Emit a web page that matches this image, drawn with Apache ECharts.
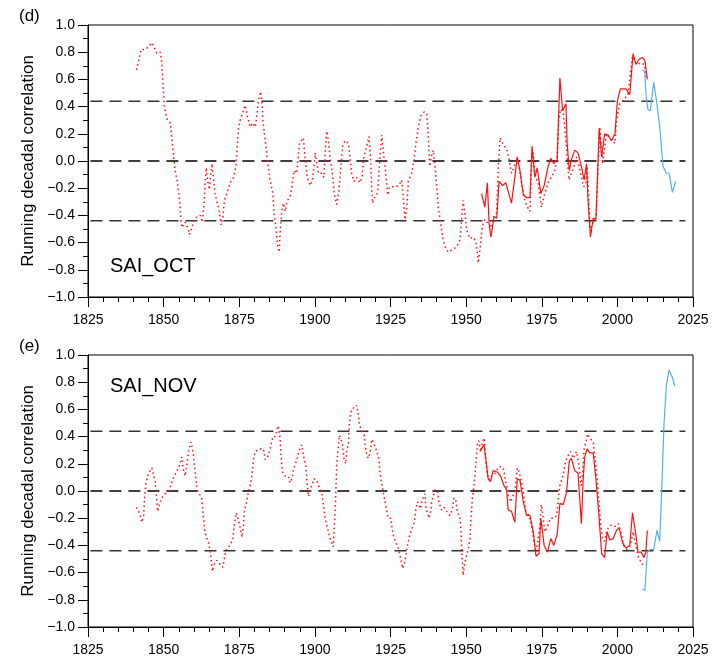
<!DOCTYPE html>
<html>
<head>
<meta charset="utf-8">
<title>SAI running decadal correlation</title>
<script src="https://cdn.jsdelivr.net/npm/echarts@6/dist/echarts.min.js"></script>
<style>
  body { margin: 0; background: #fff; }
  #main { width: 712px; height: 661px; }
</style>
</head>
<body>
<div id="main"></div>
<script>
// x ticks every 25 years, y ticks every 0.2
const xTicks = [1825, 1850, 1875, 1900, 1925, 1950, 1975, 2000, 2025];
const yTicks = [-1.0, -0.8, -0.6, -0.4, -0.2, 0.0, 0.2, 0.4, 0.6, 0.8, 1.0];
const thresholds = [0.44, 0, -0.44];
const dashSpan = [1825.8, 2022.5];

// panel (d) SAI_OCT - dotted red
const octDotYears = [1841.0, 1841.7, 1842.5, 1843.9, 1845.0, 1846.1, 1847.8, 1848.9, 1849.4, 1849.8,
  1850.2, 1851.1, 1852.2, 1853.1, 1853.8, 1854.6, 1855.3, 1855.7, 1856.1, 1857.1,
  1858.0, 1858.5, 1859.3, 1860.1, 1861.0, 1862.1, 1862.8, 1863.4, 1863.7, 1864.1,
  1864.5, 1865.1, 1865.6, 1866.0, 1866.5, 1867.0, 1867.6, 1868.5, 1869.0, 1869.6,
  1870.1, 1870.9, 1872.0, 1873.1, 1873.9, 1874.2, 1874.7, 1875.3, 1876.2, 1876.9,
  1877.7, 1878.6, 1879.5, 1880.3, 1880.8, 1881.3, 1882.1, 1882.6, 1882.8, 1883.6,
  1884.3, 1885.2, 1886.1, 1886.5, 1887.1, 1887.6, 1888.2, 1888.5, 1889.1, 1889.6,
  1890.2, 1890.7, 1891.8, 1892.4, 1893.1, 1894.0, 1894.9, 1896.2, 1896.8, 1897.5,
  1898.4, 1899.2, 1899.7, 1900.1, 1900.6, 1901.2, 1902.3, 1903.0, 1903.4, 1903.9,
  1904.5, 1905.0, 1905.8, 1906.4, 1907.2, 1908.0, 1908.6, 1909.2, 1910.0, 1911.1,
  1911.6, 1912.2, 1913.0, 1913.8, 1914.9, 1915.6, 1916.2, 1916.9, 1917.9, 1918.5,
  1918.8, 1919.1, 1919.9, 1920.8, 1921.3, 1922.1, 1922.6, 1923.4, 1924.1, 1924.8,
  1926.3, 1927.8, 1928.7, 1929.2, 1929.8, 1930.4, 1930.9, 1932.0, 1932.8, 1933.4,
  1934.2, 1935.0, 1936.1, 1937.0, 1937.5, 1938.0, 1938.6, 1939.1, 1939.7, 1940.3,
  1940.8, 1941.6, 1942.4, 1943.2, 1944.1, 1945.7, 1946.9, 1948.0, 1948.5, 1949.0,
  1949.6, 1950.2, 1951.3, 1952.3, 1953.2, 1953.8, 1954.0, 1954.6, 1955.1, 1955.6,
  1956.2, 1957.3, 1958.4, 1959.2, 1960.1, 1960.7, 1961.2, 1962.3, 1963.4, 1964.2,
  1965.0, 1965.9, 1966.7, 1967.5, 1968.3, 1969.4, 1970.3, 1971.1, 1971.6, 1972.2,
  1972.7, 1973.8, 1974.9, 1976.0, 1977.1, 1978.2, 1979.3, 1980.1, 1980.6, 1981.2,
  1982.1, 1983.0, 1983.5, 1984.0, 1984.8, 1985.7, 1986.5, 1987.4, 1988.1, 1988.9,
  1989.6, 1990.0, 1991.0, 1992.0, 1993.0, 1994.2, 1995.1, 1996.4, 1998.1, 1999.2,
  1999.7, 2000.8, 2002.1, 2003.5, 2005.0, 2006.3, 2007.6, 2009.0, 2009.6, 2010.1];
const octDotVals = [0.67, 0.73, 0.82, 0.82, 0.84, 0.87, 0.79, 0.80, 0.72, 0.57,
  0.40, 0.31, 0.28, 0.08, -0.07, -0.16, -0.29, -0.43, -0.49, -0.45,
  -0.49, -0.54, -0.49, -0.43, -0.41, -0.40, -0.45, -0.31, -0.16, -0.05,
  -0.14, -0.21, -0.09, -0.02, -0.13, -0.24, -0.30, -0.38, -0.47, -0.41,
  -0.29, -0.24, -0.16, -0.12, -0.04, 0.06, 0.23, 0.30, 0.36, 0.41,
  0.33, 0.25, 0.28, 0.25, 0.33, 0.44, 0.51, 0.41, 0.30, 0.15,
  0.01, -0.14, -0.24, -0.38, -0.48, -0.61, -0.67, -0.53, -0.36, -0.31,
  -0.37, -0.30, -0.26, -0.19, -0.07, -0.09, 0.13, 0.17, 0.01, -0.12,
  -0.18, -0.14, -0.04, 0.06, -0.01, -0.09, -0.09, -0.12, 0.06, 0.22,
  0.15, 0.03, -0.09, -0.24, -0.32, -0.21, -0.04, 0.11, 0.15, 0.13,
  0.03, -0.10, -0.15, -0.12, -0.16, -0.12, 0.03, 0.09, 0.18, -0.02,
  -0.21, -0.31, -0.26, -0.23, -0.04, 0.19, 0.08, -0.09, -0.25, -0.19,
  -0.19, -0.18, -0.14, -0.26, -0.43, -0.34, -0.15, -0.09, 0.01, 0.13,
  0.25, 0.33, 0.36, 0.35, 0.18, -0.04, 0.04, 0.08, -0.04, -0.19,
  -0.34, -0.46, -0.58, -0.64, -0.67, -0.65, -0.63, -0.58, -0.43, -0.29,
  -0.38, -0.51, -0.57, -0.56, -0.59, -0.70, -0.75, -0.65, -0.53, -0.46,
  -0.43, -0.46, -0.49, -0.41, -0.38, -0.02, 0.17, 0.12, 0.09, 0.01,
  -0.09, -0.04, 0.02, -0.04, -0.16, -0.29, -0.34, -0.37, -0.04, 0.06,
  -0.10, -0.16, -0.34, -0.24, -0.16, -0.12, -0.07, 0.03, 0.30, 0.38,
  0.36, 0.15, 0.01, -0.14, -0.09, -0.04, 0.03, -0.04, -0.12, -0.19,
  -0.16, -0.04, -0.50, -0.45, -0.40, 0.25, -0.02, 0.20, 0.15, 0.13,
  0.30, 0.42, 0.45, 0.49, 0.77, 0.71, 0.72, 0.71, 0.62, 0.60];

// panel (d) SAI_OCT - solid red
const octLineYears = [1955.1, 1956.2, 1957.0, 1957.6, 1958.2, 1959.2, 1960.1, 1960.9, 1962.1, 1963.1,
  1965.0, 1966.1, 1966.9, 1967.8, 1968.9, 1970.0, 1971.1, 1971.8, 1972.7, 1973.5,
  1974.0, 1974.7, 1975.8, 1977.1, 1978.0, 1979.0, 1980.1, 1981.0, 1981.9, 1983.0,
  1983.4, 1984.1, 1984.8, 1985.9, 1987.0, 1988.1, 1989.0, 1989.8, 1990.3, 1991.1,
  1992.0, 1992.9, 1994.0, 1994.8, 1995.8, 1996.9, 1998.1, 1999.2, 2000.0, 2001.0,
  2002.8, 2004.1, 2005.2, 2006.1, 2007.2, 2008.3, 2009.1, 2009.9];
const octLineVals = [-0.24, -0.34, -0.16, -0.46, -0.56, -0.41, -0.42, -0.15, -0.18, -0.16,
  -0.31, -0.12, 0.03, -0.07, -0.25, -0.27, -0.27, 0.11, -0.12, -0.05,
  -0.04, -0.24, -0.18, -0.04, 0.02, -0.02, 0.01, 0.61, 0.37, 0.42,
  0.13, -0.07, 0.01, 0.08, 0.06, -0.04, -0.14, -0.02, -0.29, -0.56,
  -0.42, -0.43, 0.24, 0.03, 0.20, 0.19, 0.15, 0.20, 0.44, 0.53,
  0.53, 0.49, 0.79, 0.71, 0.75, 0.76, 0.74, 0.60];

// panel (d) SAI_OCT - blue
const octBlueYears = [2008.3, 2009.0, 2009.6, 2010.1, 2010.9, 2012.0, 2012.9, 2014.0, 2015.1, 2016.2, 2017.1, 2018.2, 2019.3];
const octBlueVals = [0.67, 0.66, 0.45, 0.38, 0.37, 0.58, 0.45, 0.25, -0.04, -0.09, -0.09, -0.23, -0.15];

// panel (e) SAI_NOV - dotted red
const novDotYears = [1841.0, 1842.0, 1842.8, 1843.4, 1843.7, 1844.2, 1845.0, 1846.1, 1846.7, 1847.2,
  1847.6, 1848.0, 1848.6, 1849.4, 1850.5, 1851.9, 1853.1, 1854.2, 1855.3, 1856.0,
  1856.6, 1857.1, 1857.7, 1858.2, 1859.1, 1859.9, 1860.4, 1861.0, 1861.5, 1862.6,
  1863.2, 1863.7, 1864.3, 1864.8, 1865.4, 1865.9, 1866.1, 1866.7, 1867.6, 1868.7,
  1869.6, 1870.3, 1870.9, 1872.0, 1872.9, 1873.3, 1874.0, 1874.7, 1875.3, 1875.9,
  1876.4, 1876.7, 1877.3, 1878.0, 1878.6, 1879.2, 1879.7, 1880.3, 1881.7, 1883.0,
  1883.6, 1884.1, 1884.6, 1885.2, 1886.1, 1886.9, 1887.4, 1887.9, 1888.5, 1888.8,
  1889.3, 1890.2, 1891.2, 1891.8, 1892.4, 1893.1, 1894.0, 1894.9, 1895.7, 1896.4,
  1897.0, 1897.3, 1897.9, 1898.4, 1899.0, 1899.7, 1900.6, 1901.4, 1902.3, 1902.8,
  1903.4, 1903.9, 1904.5, 1905.0, 1905.6, 1906.1, 1906.4, 1906.8, 1907.0, 1907.2,
  1907.6, 1908.1, 1908.6, 1909.1, 1909.6, 1910.2, 1910.5, 1911.1, 1911.4, 1911.9,
  1912.5, 1913.3, 1913.8, 1914.4, 1914.7, 1915.5, 1916.3, 1916.6, 1917.2, 1917.7,
  1918.3, 1918.8, 1919.3, 1919.9, 1920.6, 1921.2, 1921.5, 1921.9, 1922.6, 1923.2,
  1923.7, 1924.3, 1925.1, 1925.4, 1925.7, 1926.2, 1926.8, 1927.6, 1928.1, 1928.7,
  1929.0, 1929.5, 1930.0, 1930.5, 1931.4, 1932.2, 1932.9, 1933.4, 1933.9, 1934.5,
  1935.0, 1935.3, 1935.8, 1936.4, 1936.7, 1937.2, 1937.8, 1938.3, 1938.6, 1939.1,
  1939.7, 1940.5, 1941.1, 1941.9, 1942.7, 1943.6, 1944.6, 1945.4, 1946.0, 1946.6,
  1947.1, 1948.0, 1948.3, 1948.5, 1948.7, 1949.0, 1949.6, 1950.2, 1950.7, 1951.3,
  1951.6, 1952.1, 1952.6, 1953.2, 1953.7, 1954.2, 1954.8, 1955.4, 1956.0, 1956.4,
  1957.0, 1957.6, 1958.4, 1959.5, 1960.9, 1962.3, 1963.1, 1963.9, 1964.7, 1965.4,
  1966.1, 1966.9, 1967.5, 1968.3, 1968.9, 1969.7, 1970.8, 1971.6, 1972.4, 1973.1,
  1973.8, 1974.4, 1974.9, 1975.5, 1976.0, 1976.9, 1977.9, 1979.0, 1979.9, 1980.4,
  1981.0, 1982.1, 1982.9, 1983.7, 1984.5, 1985.4, 1986.5, 1987.3, 1988.0, 1988.5,
  1989.0, 1989.6, 1990.1, 1990.9, 1992.0, 1992.5, 1993.3, 1993.9, 1994.4, 1995.1,
  1995.8, 1996.4, 1997.2, 1998.1, 1999.2, 2000.3, 2001.4, 2002.1, 2003.2, 2004.3,
  2005.2, 2006.1, 2007.0, 2008.2, 2009.1];
const novDotVals = [-0.12, -0.16, -0.23, -0.18, -0.05, 0.06, 0.13, 0.17, 0.17, 0.07,
  -0.03, -0.15, -0.10, -0.05, -0.02, 0.01, 0.09, 0.14, 0.19, 0.25,
  0.15, 0.11, 0.19, 0.29, 0.36, 0.26, 0.14, 0.02, -0.01, -0.05,
  -0.20, -0.30, -0.35, -0.37, -0.45, -0.54, -0.59, -0.54, -0.51, -0.54,
  -0.56, -0.47, -0.42, -0.40, -0.35, -0.26, -0.16, -0.21, -0.27, -0.34,
  -0.25, -0.15, -0.09, -0.01, 0.04, 0.12, 0.23, 0.29, 0.31, 0.31,
  0.23, 0.22, 0.26, 0.31, 0.40, 0.40, 0.44, 0.48, 0.39, 0.26,
  0.14, 0.11, 0.11, 0.06, 0.09, 0.17, 0.23, 0.30, 0.34, 0.24,
  0.19, 0.09, -0.04, 0.01, 0.04, 0.09, 0.08, 0.03, -0.01, -0.10,
  -0.20, -0.25, -0.30, -0.35, -0.38, -0.41, -0.27, -0.10, 0.04, 0.19,
  0.29, 0.41, 0.38, 0.34, 0.24, 0.20, 0.29, 0.35, 0.49, 0.58,
  0.61, 0.61, 0.63, 0.56, 0.49, 0.44, 0.41, 0.34, 0.26, 0.24,
  0.29, 0.38, 0.38, 0.33, 0.28, 0.23, 0.14, 0.08, -0.01, -0.08,
  -0.14, -0.20, -0.20, -0.25, -0.30, -0.35, -0.38, -0.42, -0.47, -0.53,
  -0.57, -0.54, -0.49, -0.41, -0.32, -0.27, -0.23, -0.13, -0.08, -0.07,
  -0.13, -0.08, -0.05, -0.02, -0.13, -0.16, -0.20, -0.15, -0.08, -0.04,
  0.01, 0.00, -0.09, -0.14, -0.12, -0.15, -0.18, -0.14, -0.05, -0.07,
  -0.15, -0.20, -0.30, -0.40, -0.49, -0.62, -0.52, -0.47, -0.43, -0.35,
  -0.20, -0.05, 0.04, 0.19, 0.34, 0.37, 0.29, 0.36, 0.39, 0.24,
  0.12, 0.08, 0.11, 0.13, 0.18, 0.17, 0.07, -0.03, -0.08, -0.04,
  -0.01, 0.17, 0.14, 0.07, -0.01, -0.15, -0.18, -0.25, -0.37, -0.45,
  -0.35, -0.25, -0.10, -0.20, -0.30, -0.26, -0.20, -0.20, -0.18, -0.08,
  0.04, 0.12, 0.22, 0.26, 0.29, 0.24, 0.29, 0.19, 0.04, 0.14,
  0.31, 0.36, 0.42, 0.39, 0.36, 0.26, 0.09, -0.08, -0.23, -0.35,
  -0.37, -0.30, -0.26, -0.25, -0.26, -0.24, -0.32, -0.40, -0.43, -0.40,
  -0.30, -0.40, -0.49, -0.54, -0.53];

// panel (e) SAI_NOV - solid red
const novLineYears = [1954.6, 1955.1, 1955.9, 1956.5, 1957.3, 1958.1, 1958.9, 1960.3, 1961.4, 1962.5,
  1963.4, 1963.9, 1965.0, 1966.1, 1966.9, 1967.8, 1968.9, 1970.0, 1971.1, 1972.2,
  1973.1, 1974.1, 1974.7, 1975.3, 1975.8, 1976.9, 1978.0, 1979.0, 1980.1, 1981.0,
  1982.1, 1983.2, 1984.1, 1984.8, 1985.9, 1987.0, 1988.1, 1988.7, 1989.2, 1990.0,
  1990.9, 1992.0, 1992.9, 1993.8, 1994.8, 1995.8, 1996.6, 1997.5, 1998.6, 1999.7,
  2000.6, 2001.7, 2002.8, 2004.1, 2005.0, 2006.1, 2006.8, 2007.9, 2008.8, 2009.4, 2009.9];
const novLineVals = [0.29, 0.31, 0.34, 0.24, 0.09, 0.07, 0.15, 0.14, 0.11, 0.04,
  0.01, -0.14, -0.15, -0.23, 0.09, 0.08, -0.08, -0.18, -0.18, -0.30,
  -0.48, -0.46, -0.20, -0.20, -0.40, -0.45, -0.35, -0.40, -0.32, -0.09,
  -0.10, -0.01, 0.22, 0.24, 0.15, 0.13, -0.24, 0.09, 0.25, 0.31,
  0.28, 0.28, 0.09, -0.15, -0.46, -0.49, -0.30, -0.36, -0.35, -0.29,
  -0.27, -0.38, -0.42, -0.40, -0.16, -0.32, -0.45, -0.45, -0.49, -0.45, -0.29];

// panel (e) SAI_NOV - blue
const novBlueYears = [2008.2, 2009.1, 2009.9, 2010.9, 2012.0, 2013.1, 2014.0, 2014.8, 2015.4, 2016.2, 2017.1, 2018.1, 2019.0];
const novBlueVals = [-0.72, -0.73, -0.45, -0.43, -0.43, -0.29, -0.37, 0.09, 0.49, 0.78, 0.89, 0.84, 0.77];

const FONT = "'Liberation Sans', Arial, Helvetica, sans-serif";
const RED = "#ff1010";
const BLUE = "#55b0e6";

function pairs(xs, ys) {
  return xs.map((x, i) => [x, ys[i]]);
}

function fmtY(v) {
  if (Math.abs(v) < 1e-9) return "0.0";
  return v.toFixed(1).replace("-", "\u2212");
}

const grids = [
  { left: 88, top: 25, width: 605, height: 272 },
  { left: 88, top: 355, width: 605, height: 272 },
];

function xAxisFor(i) {
  return {
    type: "value",
    gridIndex: i,
    min: xTicks[0],
    max: xTicks[xTicks.length - 1],
    interval: 25,
    axisLine: { show: true, onZero: false, lineStyle: { color: "#000", width: 1 } },
    axisTick: { show: true, length: 10, lineStyle: { color: "#000" } },
    minorTick: { show: true, splitNumber: 5, length: 5, lineStyle: { color: "#000" } },
    axisLabel: { color: "#000", fontFamily: FONT, fontSize: 14, margin: 16, formatter: (v) => String(v) },
    splitLine: { show: false },
  };
}

function yAxisFor(i) {
  return {
    type: "value",
    gridIndex: i,
    min: yTicks[0],
    max: yTicks[yTicks.length - 1],
    interval: 0.2,
    name: "Running decadal correlation",
    nameLocation: "middle",
    nameGap: 48,
    nameTextStyle: { color: "#000", fontFamily: FONT, fontSize: 17 },
    axisLine: { show: true, onZero: false, lineStyle: { color: "#000", width: 1 } },
    axisTick: { show: true, length: 10, lineStyle: { color: "#000" } },
    minorTick: { show: true, splitNumber: 2, length: 5, lineStyle: { color: "#000" } },
    axisLabel: { color: "#000", fontFamily: FONT, fontSize: 14, margin: 13, formatter: fmtY },
    splitLine: { show: false },
  };
}

function panelSeries(i, dotY, dotV, lineY, lineV, blueY, blueV) {
  const out = [];
  thresholds.forEach((t) => {
    out.push({
      type: "line",
      xAxisIndex: i,
      yAxisIndex: i,
      data: [[dashSpan[0], t], [dashSpan[1], t]],
      symbol: "none",
      silent: true,
      lineStyle: { color: t === 0 ? "#000" : "#333", width: 1.5, type: [12, 7] },
    });
  });
  out.push({
    type: "line", xAxisIndex: i, yAxisIndex: i,
    data: pairs(dotY, dotV), symbol: "none",
    lineStyle: { color: RED, width: 1.5, type: [1.5, 3] },
  });
  out.push({
    type: "line", xAxisIndex: i, yAxisIndex: i,
    data: pairs(lineY, lineV), symbol: "none",
    lineStyle: { color: RED, width: 1.2 },
  });
  out.push({
    type: "line", xAxisIndex: i, yAxisIndex: i,
    data: pairs(blueY, blueV), symbol: "none",
    lineStyle: { color: BLUE, width: 1.2 },
  });
  return out;
}

const myChart = echarts.init(document.getElementById("main"), null, { renderer: "canvas" });

const option = {
  animation: false,
  backgroundColor: "#fff",
  grid: grids.map((g) => Object.assign({ show: true, borderColor: "#000", borderWidth: 1, backgroundColor: "transparent" }, g)),
  xAxis: [xAxisFor(0), xAxisFor(1)],
  yAxis: [yAxisFor(0), yAxisFor(1)],
  series: [
    ...panelSeries(0, octDotYears, octDotVals, octLineYears, octLineVals, octBlueYears, octBlueVals),
    ...panelSeries(1, novDotYears, novDotVals, novLineYears, novLineVals, novBlueYears, novBlueVals),
  ],
  graphic: [
    { type: "text", left: 19, top: 8, style: { text: "(d)", font: "17px " + FONT, fill: "#000" } },
    { type: "text", left: 19, top: 338, style: { text: "(e)", font: "17px " + FONT, fill: "#000" } },
    { type: "text", left: 110, top: 256, style: { text: "SAI_OCT", font: "20px " + FONT, fill: "#000" } },
    { type: "text", left: 110, top: 376, style: { text: "SAI_NOV", font: "20px " + FONT, fill: "#000" } },
  ],
};

option && myChart.setOption(option);
</script>
</body>
</html>
